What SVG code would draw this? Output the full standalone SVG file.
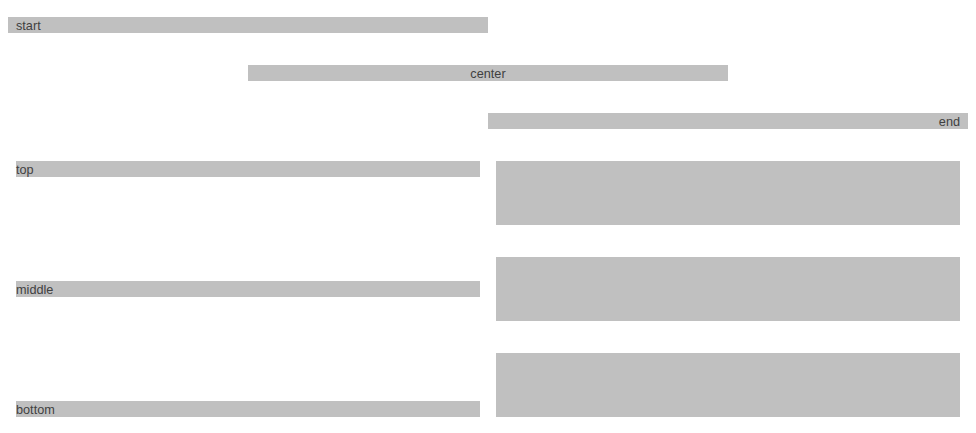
<svg xmlns="http://www.w3.org/2000/svg" width="976" height="433" viewBox="0 0 976 433">
<style>
.bar{fill:#c0c0c0}
.t{font-family:"Liberation Sans",Arial,sans-serif;font-size:12.7px;fill:#404040}
</style>
<rect width="976" height="433" fill="#ffffff"/>
<g id="start"><rect class="bar" x="8" y="17" width="480" height="16"/><text class="t" x="16" y="30">start</text></g>
<g id="center"><rect class="bar" x="248" y="65" width="480" height="16"/><text class="t" x="488" y="78" text-anchor="middle">center</text></g>
<g id="end"><rect class="bar" x="488" y="113" width="480" height="16"/><text class="t" x="960" y="126" text-anchor="end">end</text></g>
<g id="top"><rect class="bar" x="16" y="161" width="464" height="16"/><text class="t" x="16" y="174">top</text></g>
<g id="middle"><rect class="bar" x="16" y="281" width="464" height="16"/><text class="t" x="16" y="294">middle</text></g>
<g id="bottom"><rect class="bar" x="16" y="401" width="464" height="16"/><text class="t" x="16" y="414">bottom</text></g>
<g id="box1"><rect class="bar" x="496" y="161" width="464" height="64"/></g>
<g id="box2"><rect class="bar" x="496" y="257" width="464" height="64"/></g>
<g id="box3"><rect class="bar" x="496" y="353" width="464" height="64"/></g>
<g id="connectors"></g>
</svg>
